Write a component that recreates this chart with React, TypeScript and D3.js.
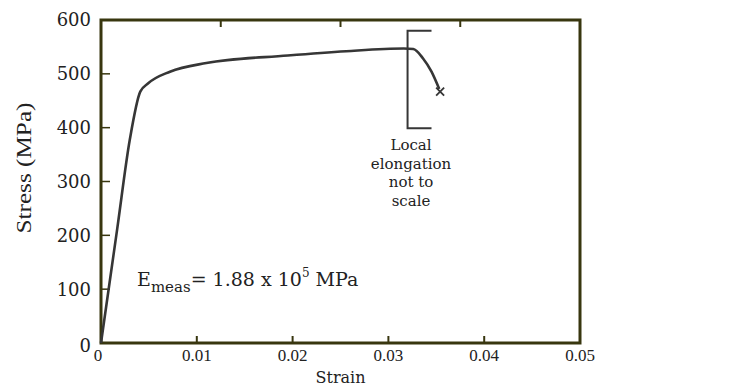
import * as d3 from "d3";
import { useEffect, useRef } from "react";

// stress-strain curve
const strain = [0, 0.0017, 0.003, 0.0041, 0.0049, 0.0072, 0.011, 0.0195, 0.0256, 0.0316, 0.0326, 0.0336, 0.0345, 0.0353];
const stress = [0, 213, 377, 467, 482, 504, 520, 534, 542, 547, 546, 529, 504, 472];
const fracture = { strain: 0.0354, stress: 467 };

const xTicks = [0, 0.01, 0.02, 0.03, 0.04, 0.05];
const xTickLabels = ["0", "0.01", "0.02", "0.03", "0.04", "0.05"];
const xTopTicks = [0.0125, 0.025, 0.0375];
const yTicks = [0, 100, 200, 300, 400, 500, 600];

const bracket = { strain: 0.032, armEnd: 0.0345, low: 399, high: 580 };
const noteLines = ["Local", "elongation", "not to", "scale"];

const W = 734;
const H = 390;

export default function App() {
  const ref = useRef<SVGSVGElement>(null);

  useEffect(() => {
    if (!ref.current) return;
    const svg = d3.select(ref.current);
    svg.selectAll("*").remove();

    const margin = { top: 20, right: 154, bottom: 47, left: 101 };
    const x = d3.scaleLinear().domain([0, 0.05]).range([margin.left, W - margin.right]);
    const y = d3.scaleLinear().domain([0, 600]).range([H - margin.bottom, margin.top]);

    const frame = "#38360f";
    const ink = "#363636";
    const serif = "'DejaVu Serif', serif";

    svg.append("rect").attr("width", W).attr("height", H).attr("fill", "#fff");

    // frame
    svg
      .append("rect")
      .attr("x", x(0))
      .attr("y", y(600))
      .attr("width", x(0.05) - x(0))
      .attr("height", y(0) - y(600))
      .attr("fill", "none")
      .attr("stroke", frame)
      .attr("stroke-width", 3);

    // inner ticks
    svg
      .append("g")
      .selectAll("line")
      .data(xTicks.slice(1, -1))
      .join("line")
      .attr("x1", (d) => x(d))
      .attr("x2", (d) => x(d))
      .attr("y1", y(0))
      .attr("y2", y(0) - 7)
      .attr("stroke", frame)
      .attr("stroke-width", 2);

    svg
      .append("g")
      .selectAll("line")
      .data(xTopTicks)
      .join("line")
      .attr("x1", (d) => x(d))
      .attr("x2", (d) => x(d))
      .attr("y1", y(600))
      .attr("y2", y(600) + 7)
      .attr("stroke", frame)
      .attr("stroke-width", 2);

    svg
      .append("g")
      .selectAll("line")
      .data(yTicks.slice(1, -1))
      .join("line")
      .attr("x1", x(0))
      .attr("x2", x(0) + 9)
      .attr("y1", (d) => y(d))
      .attr("y2", (d) => y(d))
      .attr("stroke", frame)
      .attr("stroke-width", 1.5);

    // tick labels
    svg
      .append("g")
      .selectAll("text")
      .data(yTicks)
      .join("text")
      .attr("x", 91)
      .attr("y", (d) => y(d) + (d === 0 ? 3 : 0))
      .attr("dy", "0.36em")
      .attr("text-anchor", "end")
      .attr("font-family", serif)
      .attr("font-size", 18)
      .attr("fill", "#222")
      .text((d) => String(d));

    svg
      .append("g")
      .selectAll("text")
      .data(xTicks)
      .join("text")
      .attr("x", (d) => x(d) - (d === 0 ? 3 : 0))
      .attr("y", 361)
      .attr("text-anchor", "middle")
      .attr("font-family", "'Liberation Serif', serif")
      .attr("font-size", 17)
      .attr("fill", "#222")
      .text((d, i) => xTickLabels[i]);

    svg
      .append("text")
      .attr("x", (x(0) + x(0.05)) / 2)
      .attr("y", 383)
      .attr("text-anchor", "middle")
      .attr("font-family", serif)
      .attr("font-size", 16)
      .attr("fill", "#222")
      .text("Strain");

    svg
      .append("text")
      .attr("transform", "translate(31,168) rotate(-90)")
      .attr("text-anchor", "middle")
      .attr("font-family", "'Liberation Serif', serif")
      .attr("font-size", 21)
      .attr("textLength", 131)
      .attr("lengthAdjust", "spacingAndGlyphs")
      .attr("fill", "#222")
      .text("Stress (MPa)");

    // curve
    const pts: [number, number][] = strain.map((s, i) => [s, stress[i]]);
    const line = d3
      .line<[number, number]>()
      .x((d) => x(d[0]))
      .y((d) => y(d[1]))
      .curve(d3.curveMonotoneX);

    svg
      .append("path")
      .attr("d", line(pts))
      .attr("fill", "none")
      .attr("stroke", ink)
      .attr("stroke-width", 2.6)
      .attr("stroke-linejoin", "round");

    // fracture mark
    const fx = x(fracture.strain);
    const fy = y(fracture.stress);
    svg
      .append("path")
      .attr("d", `M${fx - 4},${fy - 4}L${fx + 4},${fy + 4}M${fx - 4},${fy + 4}L${fx + 4},${fy - 4}`)
      .attr("stroke", ink)
      .attr("stroke-width", 1.8);

    // bracket
    svg
      .append("path")
      .attr(
        "d",
        `M${x(bracket.armEnd)},${y(bracket.high)}H${x(bracket.strain)}V${y(bracket.low)}H${x(bracket.armEnd)}`
      )
      .attr("fill", "none")
      .attr("stroke", ink)
      .attr("stroke-width", 2);

    svg
      .append("g")
      .selectAll("text")
      .data(noteLines)
      .join("text")
      .attr("x", 411)
      .attr("y", (d, i) => 150 + i * 18.5)
      .attr("text-anchor", "middle")
      .attr("font-family", serif)
      .attr("font-size", 15)
      .attr("fill", "#222")
      .text((d) => d);

    // modulus annotation
    const note = svg
      .append("text")
      .attr("x", 137)
      .attr("y", 286)
      .attr("font-family", serif)
      .attr("font-size", 19)
      .attr("fill", "#222");
    note.append("tspan").text("E");
    note.append("tspan").attr("font-size", 15).attr("dy", 6).text("meas");
    note.append("tspan").attr("dy", -6).text("= 1.88 x 10");
    note.append("tspan").attr("font-size", 12).attr("dy", -9).text("5");
    note.append("tspan").attr("dy", 9).text(" MPa");
  }, []);

  return (
    <svg
      ref={ref}
      width={W}
      height={H}
      style={{ position: "absolute", left: 0, top: 0, display: "block" }}
    />
  );
}
